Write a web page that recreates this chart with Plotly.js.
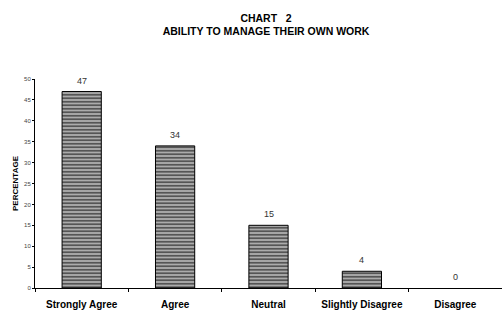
<!DOCTYPE html>
<html>
<head>
<meta charset="utf-8">
<script src="https://cdn.plot.ly/plotly-3.0.1.min.js"></script>
<style>html,body{margin:0;padding:0;background:#fff;}#chart{width:502px;height:311px;}</style>
</head>
<body>
<div id="chart"></div>
<script>
const categories = ["Strongly Agree", "Agree", "Neutral", "Slightly Disagree", "Disagree"];
const percentages = [47, 34, 15, 4, 0];
const yTickValues = [0, 5, 10, 15, 20, 25, 30, 35, 40, 45, 50];

const FONT = "Liberation Sans, Arial, sans-serif";

const trace = {
  type: "bar",
  x: categories,
  y: percentages,
  width: 0.42,
  marker: {
    color: "#a8a8a8",
    line: {color: "#000", width: percentages.map(v => v > 0 ? 1 : 0)},
    pattern: {shape: "-", fgcolor: "#111", bgcolor: "#ababab", size: 3.5, solidity: 0.28}
  },
  hoverinfo: "skip"
};

const labels = categories.map((c, i) => ({
  x: c, y: percentages[i], xref: "x", yref: "y",
  text: String(percentages[i]), showarrow: false,
  yanchor: "bottom", yshift: 4,
  font: {family: FONT, size: 9, color: "#333"}
}));

const layout = {
  width: 502, height: 311,
  margin: {l: 35, r: 0, t: 79, b: 23},
  paper_bgcolor: "#fff", plot_bgcolor: "rgba(0,0,0,0)",
  showlegend: false,
  title: {
    text: "CHART\u00a0\u00a0\u00a02<br>ABILITY TO MANAGE THEIR OWN WORK",
    x: 0.53, xanchor: "center", yref: "container", y: 0.93, yanchor: "middle",
    font: {family: FONT, size: 10.5, color: "#000", weight: "bold"}
  },
  xaxis: {
    type: "category",
    range: [-0.5, 4.5],
    automargin: false,
    showline: true, linecolor: "#000", linewidth: 1,
    ticks: "outside", tickson: "boundaries", ticklen: 3, tickcolor: "#000",
    tickangle: 0,
    ticklabelstandoff: 7,
    tickfont: {family: FONT, size: 10, color: "#000", weight: "bold"},
    showgrid: false, zeroline: false, fixedrange: true
  },
  yaxis: {
    range: [0, 50],
    tickvals: yTickValues,
    automargin: false,
    showline: true, linecolor: "#000", linewidth: 1,
    ticks: "outside", ticklen: 2, tickcolor: "#000",
    tickfont: {family: FONT, size: 6, color: "#444"},
    showgrid: false, zeroline: false, fixedrange: true,
    title: {text: "PERCENTAGE", standoff: 4, font: {family: FONT, size: 8, color: "#000", weight: "bold"}}
  },
  annotations: labels
};

Plotly.newPlot("chart", [trace], layout, {displayModeBar: false, staticPlot: true});
</script>
</body>
</html>
